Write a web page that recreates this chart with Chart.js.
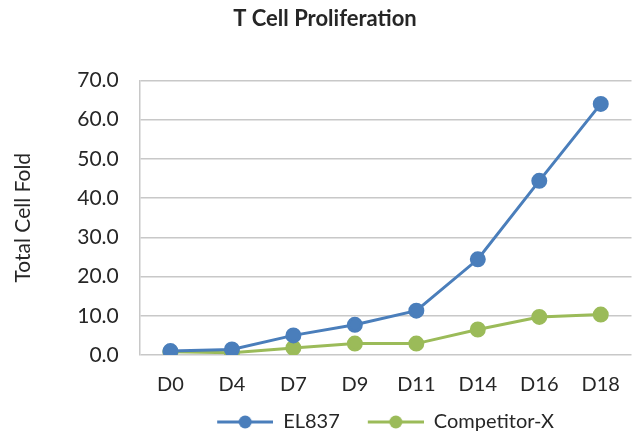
<!DOCTYPE html>
<html>
<head>
<meta charset="utf-8">
<script src="https://cdn.jsdelivr.net/npm/chart.js@4"></script>
<style>
  html, body { margin: 0; padding: 0; background: #fff; }
  #wrap { width: 641px; height: 432px; }
</style>
</head>
<body>
<div id="wrap"><canvas id="myChart"></canvas></div>
<script>
// T cell proliferation - total cell fold per day
const days = ['D0', 'D4', 'D7', 'D9', 'D11', 'D14', 'D16', 'D18'];
const el837 = [1.0, 1.4, 5.0, 7.7, 11.3, 24.4, 44.4, 64.0];
const competitorX = [0.8, 0.6, 1.8, 2.9, 2.9, 6.5, 9.7, 10.3];
const yTicks = [0, 10, 20, 30, 40, 50, 60, 70];

const blue = '#4A7EBB';
const green = '#9BBB59';
const textColor = '#262626';

// little line + dot icon for the legend, like excel
// (blank space on the left keeps the two items apart)
function legendIcon(color) {
    const c = document.createElement('canvas');
    c.width = 84; c.height = 14;
    const g = c.getContext('2d');
    g.strokeStyle = color;
    g.lineWidth = 3;
    g.beginPath();
    g.moveTo(28, 7); g.lineTo(84, 7);
    g.stroke();
    g.fillStyle = color;
    g.beginPath();
    g.arc(56, 7, 6.5, 0, Math.PI * 2);
    g.fill();
    return c;
}

// center the legend under the plot area instead of the whole canvas
const legendUnderPlot = {
    id: 'legendUnderPlot',
    afterLayout: function (chart) {
        chart.legend.left = chart.chartArea.left - 28;
        chart.legend.right = chart.chartArea.right;
    }
};

const font = "Lato, 'Open Sans', sans-serif";

var ctx = document.getElementById('myChart').getContext('2d');
var myChart = new Chart(ctx, {
    type: 'line',
    data: {
        labels: days,
        datasets: [{
            label: 'EL837',
            data: el837,
            borderColor: blue,
            backgroundColor: blue,
            borderWidth: 3,
            pointRadius: 6.5,
            pointHoverRadius: 6.5,
            tension: 0
        }, {
            label: 'Competitor-X',
            data: competitorX,
            borderColor: green,
            backgroundColor: green,
            borderWidth: 3,
            pointRadius: 6.5,
            pointHoverRadius: 6.5,
            tension: 0
        }]
    },
    plugins: [legendUnderPlot],
    options: {
        responsive: true,
        maintainAspectRatio: false,
        animation: false,
        layout: {
            padding: { top: 6, right: 2, left: 11, bottom: -10 }
        },
        plugins: {
            title: {
                display: true,
                text: 'T Cell Proliferation',
                color: textColor,
                font: { family: font, size: 22, weight: 'bold' },
                padding: { top: 0, bottom: 48 }
            },
            legend: {
                position: 'bottom',
                labels: {
                    usePointStyle: true,
                    pointStyleWidth: 84,
                    color: textColor,
                    font: { family: font, size: 20 },
                    padding: 0,
                    generateLabels: function (chart) {
                        return chart.data.datasets.map(function (ds, i) {
                            return {
                                text: ds.label,
                                pointStyle: legendIcon(ds.borderColor),
                                fillStyle: ds.borderColor,
                                strokeStyle: ds.borderColor,
                                lineWidth: 0,
                                fontColor: textColor,
                                datasetIndex: i
                            };
                        });
                    }
                }
            },
            tooltip: { enabled: false }
        },
        scales: {
            x: {
                offset: true,
                grid: { display: false, drawTicks: false },
                border: { display: false },
                ticks: {
                    color: textColor,
                    font: { family: font, size: 20 },
                    padding: 18
                },
                afterFit: function (axis) {
                    axis.height -= 3;
                }
            },
            y: {
                min: 0,
                max: 70,
                afterBuildTicks: function (axis) {
                    axis.ticks = yTicks.map(v => ({ value: v }));
                },
                grid: { color: '#c8c8c8', lineWidth: 1.5, drawTicks: false },
                border: { display: true, color: '#c8c8c8', width: 1.5 },
                ticks: {
                    color: textColor,
                    font: { family: font, size: 21 },
                    padding: 21,
                    callback: function (v) { return Number(v).toFixed(1); }
                },
                title: {
                    display: true,
                    text: 'Total Cell Fold',
                    color: textColor,
                    font: { family: font, size: 21 },
                    padding: { top: 0, bottom: 20 }
                }
            }
        }
    }
});
</script>
</body>
</html>
